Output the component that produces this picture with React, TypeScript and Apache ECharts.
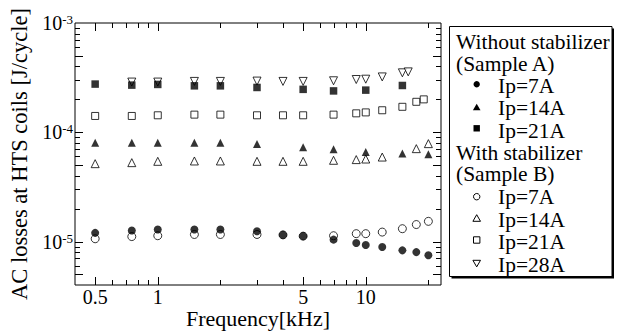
import React, { useEffect, useRef } from 'react';
import * as echarts from 'echarts';

const FONT = '"Liberation Serif", "Times New Roman", serif';

// Without stabilizer (Sample A)
const freqA7 = [0.5, 0.75, 1, 1.5, 2, 3, 4, 5, 7, 9, 10, 12, 15, 17.5, 20];
const lossA7 = [1.2e-5, 1.26e-5, 1.29e-5, 1.29e-5, 1.29e-5, 1.24e-5, 1.15e-5, 1.12e-5, 1.04e-5, 9.7e-6, 9.3e-6, 8.9e-6, 8.3e-6, 8.0e-6, 7.5e-6];
const freqA14 = [0.5, 0.75, 1, 1.5, 2, 3, 5, 7, 10, 15, 20];
const lossA14 = [8.0e-5, 8.0e-5, 8.0e-5, 8.0e-5, 8.0e-5, 7.8e-5, 7.3e-5, 7.0e-5, 6.6e-5, 6.4e-5, 6.3e-5];
const freqA21 = [0.5, 0.75, 1, 1.5, 2, 3, 5, 7, 10, 15];
const lossA21 = [2.76e-4, 2.7e-4, 2.74e-4, 2.66e-4, 2.66e-4, 2.57e-4, 2.47e-4, 2.39e-4, 2.43e-4, 2.68e-4];

// With stabilizer (Sample B)
const freqB7 = [0.5, 0.75, 1, 1.5, 2, 3, 4, 5, 7, 9, 10, 12, 15, 17.5, 20];
const lossB7 = [1.06e-5, 1.11e-5, 1.13e-5, 1.16e-5, 1.16e-5, 1.16e-5, 1.15e-5, 1.12e-5, 1.13e-5, 1.18e-5, 1.18e-5, 1.22e-5, 1.31e-5, 1.43e-5, 1.53e-5];
const freqB14 = [0.5, 0.75, 1, 1.5, 2, 3, 4, 5, 7, 9, 10, 12, 17.5, 20];
const lossB14 = [5.16e-5, 5.27e-5, 5.42e-5, 5.46e-5, 5.46e-5, 5.42e-5, 5.42e-5, 5.42e-5, 5.54e-5, 5.62e-5, 5.69e-5, 5.93e-5, 7.08e-5, 7.87e-5];
const freqB21 = [0.5, 0.75, 1, 1.5, 2, 3, 4, 5, 7, 9, 10, 12, 15, 17.5, 19];
const lossB21 = [1.41e-4, 1.41e-4, 1.43e-4, 1.45e-4, 1.45e-4, 1.43e-4, 1.43e-4, 1.43e-4, 1.45e-4, 1.49e-4, 1.52e-4, 1.59e-4, 1.71e-4, 1.9e-4, 2.0e-4];
const freqB28 = [0.75, 1, 1.5, 2, 3, 4, 5, 7, 9, 10, 12, 15, 16];
const lossB28 = [2.88e-4, 2.88e-4, 2.92e-4, 2.92e-4, 2.94e-4, 2.92e-4, 2.92e-4, 2.96e-4, 3.04e-4, 3.06e-4, 3.21e-4, 3.5e-4, 3.57e-4];

// Axes
const X_MIN = 0.4;
const X_MAX = 23;
const Y_MIN = 4e-6;
const Y_MAX = 1e-3;
const xTickLabels = [0.5, 1, 5, 10];
const xMajorTicks = [0.5, 1, 5, 10];
const xMinorTicks = [0.6, 0.7, 0.8, 0.9, 2, 3, 4, 6, 7, 8, 9, 20];
const yMajorTicks = [5e-6, 1e-5, 5e-5, 1e-4, 5e-4];
const yMinorTicks = [6e-6, 7e-6, 8e-6, 9e-6, 2e-5, 3e-5, 4e-5, 6e-5, 7e-5, 8e-5, 9e-5, 2e-4, 3e-4, 4e-4, 6e-4, 7e-4, 8e-4, 9e-4];

const xTitle = 'Frequency[kHz]';
const yTitle = 'AC losses at HTS coils [J/cycle]';
const legendHeaderA = ['Without stabilizer', '(Sample A)'];
const legendHeaderB = ['With stabilizer', '(Sample B)'];
const labelsA = ['Ip=7A', 'Ip=14A', 'Ip=21A'];
const labelsB = ['Ip=7A', 'Ip=14A', 'Ip=21A', 'Ip=28A'];

const pairs = (xs: number[], ys: number[]) => xs.map((x, i) => [x, ys[i]]);

const OPEN = { color: '#fff', borderColor: '#000', borderWidth: 1 };
const FILLED = { color: '#000', borderWidth: 0 };
const DUMMY_Y = 1e-4;
const DUMMY_X = 1;

function xTickRender(len: number) {
  return (params: any, api: any) => {
    const cs = params.coordSys;
    const px = Math.round(api.coord([api.value(0), DUMMY_Y])[0]) + 0.5;
    const style = { stroke: '#000', lineWidth: 1 };
    return {
      type: 'group',
      children: [
        { type: 'line', shape: { x1: px, y1: cs.y + cs.height, x2: px, y2: cs.y + cs.height - len }, style },
        { type: 'line', shape: { x1: px, y1: cs.y, x2: px, y2: cs.y + len }, style },
      ],
    };
  };
}

function yTickRender(len: number) {
  return (params: any, api: any) => {
    const cs = params.coordSys;
    const py = Math.round(api.coord([DUMMY_X, api.value(1)])[1]) + 0.5;
    const style = { stroke: '#000', lineWidth: 1 };
    return {
      type: 'group',
      children: [
        { type: 'line', shape: { x1: cs.x, y1: py, x2: cs.x + len, y2: py }, style },
        { type: 'line', shape: { x1: cs.x + cs.width, y1: py, x2: cs.x + cs.width - len, y2: py }, style },
      ],
    };
  };
}

function legendGraphics() {
  const els: any[] = [];
  const boxX = 449.5, boxY = 26.5, boxW = 162.5, boxH = 250;
  els.push({ type: 'rect', shape: { x: boxX + 2, y: boxY + 2, width: boxW, height: boxH }, style: { fill: '#000' }, silent: true });
  els.push({ type: 'rect', shape: { x: boxX, y: boxY, width: boxW, height: boxH }, style: { fill: '#fff', stroke: '#000', lineWidth: 1 }, silent: true });
  const rowY = [41.7, 64, 85.7, 108.3, 130.7, 152.7, 174.3, 197.3, 220, 242.3, 265];
  const txt = (s: string, x: number, y: number) => ({
    type: 'text', x, y, silent: true,
    style: { text: s, fill: '#000', fontSize: 21.5, fontFamily: FONT, align: 'left', verticalAlign: 'middle', textAlign: 'left', textVerticalAlign: 'middle' },
  });
  const headX = 456, labX = 498, mx = 476.7;
  els.push(txt(legendHeaderA[0], headX, rowY[0]));
  els.push(txt(legendHeaderA[1], headX, rowY[1]));
  labelsA.forEach((s, i) => els.push(txt(s, labX, rowY[2 + i])));
  els.push(txt(legendHeaderB[0], headX, rowY[5]));
  els.push(txt(legendHeaderB[1], headX, rowY[6]));
  labelsB.forEach((s, i) => els.push(txt(s, labX, rowY[7 + i])));
  const fill = { fill: '#000' };
  const open = { fill: '#fff', stroke: '#000', lineWidth: 1 };
  const circle = (cy: number, st: any) => ({ type: 'circle', shape: { cx: mx, cy, r: 3.2 }, style: st, silent: true });
  const triUp = (cy: number, st: any) => ({ type: 'polygon', shape: { points: [[mx, cy - 3.6], [mx + 3.8, cy + 3], [mx - 3.8, cy + 3]] }, style: st, silent: true });
  const triDown = (cy: number, st: any) => ({ type: 'polygon', shape: { points: [[mx, cy + 3.6], [mx + 3.8, cy - 3], [mx - 3.8, cy - 3]] }, style: st, silent: true });
  const square = (cy: number, st: any) => ({ type: 'rect', shape: { x: mx - 3.2, y: cy - 3.2, width: 6.4, height: 6.4 }, style: st, silent: true });
  const mY = [84.3, 107.3, 128.3, 196.7, 218.3, 240, 263.3];
  els.push(circle(mY[0], fill));
  els.push(triUp(mY[1], fill));
  els.push(square(mY[2], fill));
  els.push(circle(mY[3], open));
  els.push(triUp(mY[4], open));
  els.push(square(mY[5], open));
  els.push(triDown(mY[6], open));
  return els;
}

export default function App() {
  const ref = useRef<HTMLDivElement>(null);
  useEffect(() => {
    if (!ref.current) return;
    const chart = echarts.init(ref.current, undefined, { renderer: 'svg' });
    const scatterBase = { type: 'scatter', silent: true, emphasis: { disabled: true }, z: 3 };
    const option: any = {
      animation: false,
      backgroundColor: '#fff',
      grid: { left: 75, right: 179, top: 23, bottom: 46, show: true, borderColor: '#000', borderWidth: 1, backgroundColor: 'transparent', containLabel: false, outerBoundsMode: 'none' },
      xAxis: {
        type: 'log', logBase: 10, min: X_MIN, max: X_MAX,
        name: xTitle, nameLocation: 'middle', nameGap: 22.5,
        nameTextStyle: { fontSize: 22, fontFamily: FONT, color: '#000' },
        axisLine: { show: false }, axisTick: { show: false }, axisLabel: { show: false }, splitLine: { show: false },
      },
      yAxis: {
        type: 'log', logBase: 10, min: Y_MIN, max: Y_MAX,
        name: yTitle, nameLocation: 'middle', nameGap: 40,
        nameTextStyle: { fontSize: 22.5, fontFamily: FONT, color: '#000' },
        axisLine: { show: false }, axisTick: { show: false }, splitLine: { show: false },
        axisLabel: {
          show: true, margin: 2, showMinLabel: false,
          formatter: (v: number) => {
            const l = Math.log10(v);
            const e = Math.round(l);
            if (Math.abs(l - e) > 1e-6) return '';
            return `{a|10}{b|${e}}`;
          },
          rich: {
            a: { fontSize: 20, fontFamily: FONT, color: '#000' },
            b: { fontSize: 13, fontFamily: FONT, color: '#000', verticalAlign: 'top' },
          },
        },
      },
      graphic: legendGraphics(),
      series: [
        { ...scatterBase, name: 'B Ip=7A', data: pairs(freqB7, lossB7), symbol: 'circle', symbolSize: 8, itemStyle: OPEN },
        { ...scatterBase, name: 'B Ip=14A', data: pairs(freqB14, lossB14), symbol: 'triangle', symbolSize: 8, itemStyle: OPEN },
        { ...scatterBase, name: 'B Ip=21A', data: pairs(freqB21, lossB21), symbol: 'rect', symbolSize: 7, itemStyle: OPEN },
        { ...scatterBase, name: 'B Ip=28A', data: pairs(freqB28, lossB28), symbol: 'triangle', symbolRotate: 180, symbolSize: 8, itemStyle: OPEN },
        { ...scatterBase, name: 'A Ip=7A', data: pairs(freqA7, lossA7), symbol: 'circle', symbolSize: 8, itemStyle: FILLED },
        { ...scatterBase, name: 'A Ip=14A', data: pairs(freqA14, lossA14), symbol: 'triangle', symbolSize: 8, itemStyle: FILLED },
        { ...scatterBase, name: 'A Ip=21A', data: pairs(freqA21, lossA21), symbol: 'rect', symbolSize: 7.5, itemStyle: FILLED },
        { type: 'custom', silent: true, clip: false, data: xMajorTicks.map((v) => [v, DUMMY_Y]), renderItem: xTickRender(8) },
        { type: 'custom', silent: true, clip: false, data: xMinorTicks.map((v) => [v, DUMMY_Y]), renderItem: xTickRender(5) },
        { type: 'custom', silent: true, clip: false, data: yMajorTicks.map((v) => [DUMMY_X, v]), renderItem: yTickRender(8) },
        { type: 'custom', silent: true, clip: false, data: yMinorTicks.map((v) => [DUMMY_X, v]), renderItem: yTickRender(5) },
        {
          type: 'custom', silent: true, clip: false,
          data: xTickLabels.map((v) => [v, DUMMY_Y]),
          renderItem: (params: any, api: any) => {
            const cs = params.coordSys;
            const v = api.value(0);
            const px = api.coord([v, DUMMY_Y])[0];
            return {
              type: 'text', x: px, y: cs.y + cs.height + 11.5,
              style: { text: String(v), fill: '#000', fontSize: 20, fontFamily: FONT, align: 'center', verticalAlign: 'middle' },
            };
          },
        },
      ],
    };
    chart.setOption(option);
    return () => chart.dispose();
  }, []);
  return <div ref={ref} style={{ position: 'absolute', left: 0, top: 0, width: 620, height: 331 }} />;
}
